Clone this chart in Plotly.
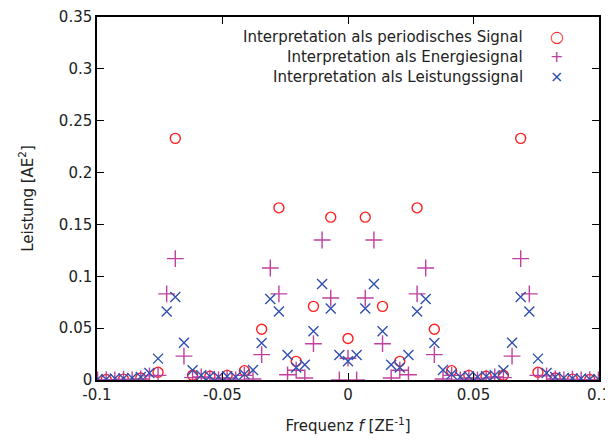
import plotly.graph_objects as go

# Frequenzen (fein: Energie-/Leistungssignal, grob: periodisches Signal)
freq_fine = [-0.09976, -0.09632, -0.09288, -0.08944, -0.086, -0.08256, -0.07912, -0.07568,
             -0.07224, -0.0688, -0.06536, -0.06192, -0.05848, -0.05504, -0.0516, -0.04816,
             -0.04472, -0.04128, -0.03784, -0.0344, -0.03096, -0.02752, -0.02408, -0.02064,
             -0.0172, -0.01376, -0.01032, -0.00688, -0.00344, 0.0, 0.00344, 0.00688,
             0.01032, 0.01376, 0.0172, 0.02064, 0.02408, 0.02752, 0.03096, 0.0344,
             0.03784, 0.04128, 0.04472, 0.04816, 0.0516, 0.05504, 0.05848, 0.06192,
             0.06536, 0.0688, 0.07224, 0.07568, 0.07912, 0.08256, 0.086, 0.08944,
             0.09288, 0.09632, 0.09976]

freq_coarse = [-0.09632, -0.08944, -0.08256, -0.07568, -0.0688, -0.06192, -0.05504, -0.04816,
               -0.04128, -0.0344, -0.02752, -0.02064, -0.01376, -0.00688, 0.0, 0.00688,
               0.01376, 0.02064, 0.02752, 0.0344, 0.04128, 0.04816, 0.05504, 0.06192,
               0.0688, 0.07568, 0.08256, 0.08944, 0.09632]

# periodisches Signal
p_periodisch = [0.0005, 0.0008, 0.002, 0.0075, 0.233, 0.0046, 0.0036, 0.0045, 0.009, 0.049,
                0.166, 0.018, 0.071, 0.157, 0.040, 0.157, 0.071, 0.018, 0.166, 0.049,
                0.009, 0.0045, 0.0036, 0.0046, 0.233, 0.0075, 0.002, 0.0008, 0.0005]

# Energiesignal
p_energie = [0.0, 0.0004, 0.0, 0.0008, 0.0, 0.001, 0.004, 0.0045, 0.083, 0.117,
             0.023, 0.0023, 0.003, 0.0018, 0.0, 0.002, 0.0, 0.0045, 0.001, 0.0245,
             0.108, 0.083, 0.005, 0.0094, 0.002, 0.035, 0.135, 0.079, 0.0, 0.021,
             0.0, 0.079, 0.135, 0.035, 0.002, 0.0094, 0.005, 0.083, 0.108, 0.0245,
             0.001, 0.0045, 0.0, 0.002, 0.0, 0.0018, 0.003, 0.0023, 0.023, 0.117,
             0.083, 0.0045, 0.004, 0.001, 0.0, 0.0008, 0.0, 0.0004, 0.0]

# Leistungssignal
p_leistung = [0.0007, 0.0007, 0.0015, 0.0015, 0.002, 0.003, 0.0068, 0.0206, 0.066, 0.080,
              0.036, 0.0094, 0.0045, 0.0036, 0.003, 0.0036, 0.003, 0.0055, 0.0097, 0.0357,
              0.078, 0.066, 0.024, 0.012, 0.0148, 0.047, 0.0926, 0.069, 0.024, 0.018,
              0.024, 0.069, 0.0926, 0.047, 0.0148, 0.012, 0.024, 0.066, 0.078, 0.0357,
              0.0097, 0.0055, 0.003, 0.0036, 0.003, 0.0036, 0.0045, 0.0094, 0.036, 0.080,
              0.066, 0.0206, 0.0068, 0.003, 0.002, 0.0015, 0.0015, 0.0007, 0.0007]

legend_labels = ["Interpretation als periodisches Signal",
                 "Interpretation als Energiesignal",
                 "Interpretation als Leistungssignal"]

x_ticks = [-0.1, -0.05, 0, 0.05, 0.1]
x_ticklabels = ["-0.1", "-0.05", "0", "0.05", "0.1"]
y_ticks = [0, 0.05, 0.1, 0.15, 0.2, 0.25, 0.3, 0.35]
y_ticklabels = ["0", "0.05", "0.1", "0.15", "0.2", "0.25", "0.3", "0.35"]

ROT = "#ff1f1f"
MAGENTA = "#c040a0"
BLAU = "#3050b0"
FONT = "DejaVu Sans"
TXT = "#222"

fig = go.Figure()

fig.add_trace(go.Scatter(x=freq_coarse, y=p_periodisch, mode="markers", name=legend_labels[0],
                         marker=dict(symbol="circle-open", size=10, color=ROT, line=dict(width=1.4))))
fig.add_trace(go.Scatter(x=freq_fine, y=p_energie, mode="markers", name=legend_labels[1],
                         marker=dict(symbol="cross-thin-open", size=12, color=MAGENTA, line=dict(width=1.4))))
fig.add_trace(go.Scatter(x=freq_fine, y=p_leistung, mode="markers", name=legend_labels[2],
                         marker=dict(symbol="x-thin-open", size=10, color=BLAU, line=dict(width=1.4))))

# Legende wie bei gnuplot: Text rechtsbündig, Symbol rechts daneben
symbols = ["○", "+", "×"]
colors = [ROT, MAGENTA, BLAU]
for i, lab in enumerate(legend_labels):
    yy = 0.945 - i * 0.055
    fig.add_annotation(xref="paper", yref="paper", x=0.852, y=yy, text=lab, showarrow=False,
                       xanchor="right", yanchor="middle", font=dict(family=FONT, size=15, color=TXT))
    fig.add_annotation(xref="paper", yref="paper", x=0.916, y=yy, text=symbols[i], showarrow=False,
                       xanchor="center", yanchor="middle", font=dict(family=FONT, size=16, color=colors[i]))

axis_common = dict(showgrid=False, zeroline=False, showline=True, linecolor="black", linewidth=1.5,
                   mirror="ticks", ticks="inside", ticklen=7, tickwidth=1.2, tickcolor="black",
                   automargin=False, tickfont=dict(family=FONT, size=15, color=TXT))

fig.update_xaxes(range=[-0.1, 0.1], tickvals=x_ticks, ticktext=x_ticklabels,
                 title=dict(text="Frequenz <i>f</i> [ZE<sup>-1</sup>]", font=dict(family=FONT, size=15, color=TXT),
                            standoff=20),
                 **axis_common)
fig.update_yaxes(range=[0, 0.35], tickvals=y_ticks, ticktext=y_ticklabels,
                 title=dict(text="Leistung [AE<sup>2</sup>]", font=dict(family=FONT, size=15, color=TXT),
                            standoff=22),
                 **axis_common)

# Seite hat 8px Rand -> Figur kleiner, damit kein Scrollbalken entsteht
fig.update_layout(width=605, height=427, showlegend=False,
                  margin=dict(l=89, r=14, t=9, b=55),
                  plot_bgcolor="white", paper_bgcolor="white",
                  font=dict(family=FONT, size=15))

fig.write_html("out.html")
